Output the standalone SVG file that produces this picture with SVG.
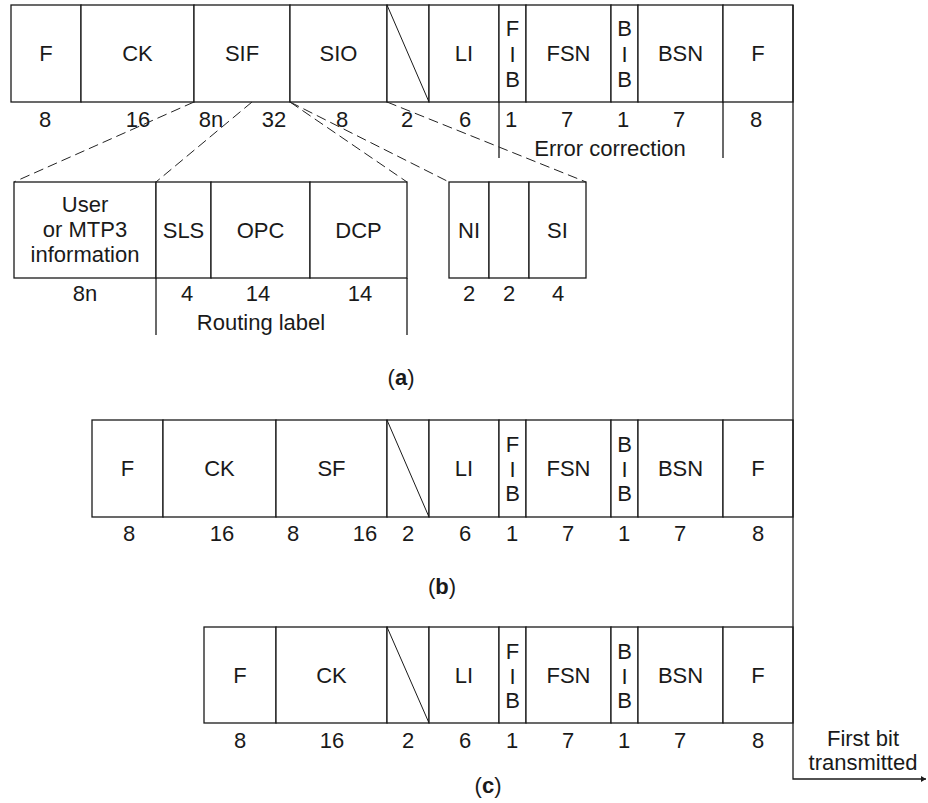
<svg xmlns="http://www.w3.org/2000/svg" width="928" height="803" viewBox="0 0 928 803">
  <style>
    .box { fill: #fff; stroke: #1a1a1a; stroke-width: 1.3; }
    .ln { fill: none; stroke: #1a1a1a; stroke-width: 1.3; }
    .diag { fill: none; stroke: #1a1a1a; stroke-width: 1; }
    .dash { fill: none; stroke: #222; stroke-width: 1; stroke-dasharray: 10 5; }
    text { font-family: "Liberation Sans", Arial, Helvetica, sans-serif; font-size: 22px; fill: #1a1a1a; text-anchor: middle; }
  </style>
  <defs>
    <marker id="arrow" markerWidth="6" markerHeight="8" refX="5" refY="4" orient="auto" markerUnits="userSpaceOnUse">
      <path d="M0,1 L5,4 L0,7 Z" fill="#1a1a1a"/>
    </marker>
  </defs>
  <rect width="928" height="803" fill="#fff"/>

  <!-- Signal unit with SIF/SIO (frame a) -->
  <g id="frame-a">
    <g id="a-F1"><rect class="box" x="11" y="5" width="70" height="97"/><text x="46" y="61">F</text></g>
    <g id="a-CK"><rect class="box" x="81" y="5" width="113" height="97"/><text x="137.5" y="61">CK</text></g>
    <g id="a-SIF"><rect class="box" x="194" y="5" width="96" height="97"/><text x="242" y="61">SIF</text></g>
    <g id="a-SIO"><rect class="box" x="290" y="5" width="97" height="97"/><text x="338.5" y="61">SIO</text></g>
    <g id="a-spare"><rect class="box" x="387" y="5" width="42" height="97"/><line class="diag" x1="387" y1="5" x2="429" y2="102"/></g>
    <g id="a-LI"><rect class="box" x="429" y="5" width="70" height="97"/><text x="464" y="61">LI</text></g>
    <g id="a-FIB"><rect class="box" x="499" y="5" width="27" height="97"/><text x="512.5" y="36">F</text><text x="512.5" y="62">I</text><text x="512.5" y="87">B</text></g>
    <g id="a-FSN"><rect class="box" x="526" y="5" width="85" height="97"/><text x="568.5" y="61">FSN</text></g>
    <g id="a-BIB"><rect class="box" x="611" y="5" width="27" height="97"/><text x="624.5" y="36">B</text><text x="624.5" y="62">I</text><text x="624.5" y="87">B</text></g>
    <g id="a-BSN"><rect class="box" x="638" y="5" width="85" height="97"/><text x="680.5" y="61">BSN</text></g>
    <g id="a-F2"><rect class="box" x="723" y="5" width="70" height="97"/><text x="758" y="61">F</text></g>
    <g id="a-bits">
      <text x="45" y="127">8</text>
      <text x="138" y="127">16</text>
      <text x="211" y="127">8n</text>
      <text x="274" y="127">32</text>
      <text x="342" y="127">8</text>
      <text x="407" y="127">2</text>
      <text x="465" y="127">6</text>
      <text x="511" y="127">1</text>
      <text x="567" y="127">7</text>
      <text x="623" y="127">1</text>
      <text x="679" y="127">7</text>
      <text x="756" y="127">8</text>
    </g>
    <g id="a-error-correction">
      <line class="ln" x1="499" y1="102" x2="499" y2="158"/>
      <line class="ln" x1="723" y1="102" x2="723" y2="158"/>
      <text x="610" y="156">Error correction</text>
    </g>
  </g>

  <!-- SIF breakdown -->
  <g id="sif-detail">
    <g id="s-user"><rect class="box" x="14" y="182" width="142" height="96"/>
      <text x="85" y="212">User</text><text x="85" y="237">or MTP3</text><text x="85" y="262">information</text></g>
    <g id="s-SLS"><rect class="box" x="156" y="182" width="55" height="96"/><text x="183.5" y="238">SLS</text></g>
    <g id="s-OPC"><rect class="box" x="211" y="182" width="99" height="96"/><text x="260.5" y="238">OPC</text></g>
    <g id="s-DCP"><rect class="box" x="310" y="182" width="97" height="96"/><text x="358.5" y="238">DCP</text></g>
    <g id="s-bits">
      <text x="85" y="301">8n</text>
      <text x="187" y="301">4</text>
      <text x="258" y="301">14</text>
      <text x="360" y="301">14</text>
    </g>
    <g id="routing-label">
      <line class="ln" x1="156" y1="278" x2="156" y2="335"/>
      <line class="ln" x1="407" y1="278" x2="407" y2="335"/>
      <text x="261" y="330">Routing label</text>
    </g>
  </g>

  <!-- SIO breakdown -->
  <g id="sio-detail">
    <g id="o-NI"><rect class="box" x="449" y="182" width="40" height="96"/><text x="469" y="238">NI</text></g>
    <g id="o-spare"><rect class="box" x="489" y="182" width="40" height="96"/></g>
    <g id="o-SI"><rect class="box" x="529" y="182" width="57" height="96"/><text x="557.5" y="238">SI</text></g>
    <g id="o-bits">
      <text x="469" y="301">2</text>
      <text x="509" y="301">2</text>
      <text x="558" y="301">4</text>
    </g>
  </g>

  <text id="caption-a" x="401" y="385">(<tspan font-weight="bold">a</tspan>)</text>

  <!-- Link status unit (frame b) -->
  <g id="frame-b">
    <g id="b-F1"><rect class="box" x="92" y="420" width="71" height="97"/><text x="127.5" y="476">F</text></g>
    <g id="b-CK"><rect class="box" x="163" y="420" width="113" height="97"/><text x="219.5" y="476">CK</text></g>
    <g id="b-SF"><rect class="box" x="276" y="420" width="111" height="97"/><text x="331.5" y="476">SF</text></g>
    <g id="b-spare"><rect class="box" x="387" y="420" width="42" height="97"/><line class="diag" x1="387" y1="420" x2="429" y2="517"/></g>
    <g id="b-LI"><rect class="box" x="429" y="420" width="70" height="97"/><text x="464" y="476">LI</text></g>
    <g id="b-FIB"><rect class="box" x="499" y="420" width="27" height="97"/><text x="512.5" y="452">F</text><text x="512.5" y="477">I</text><text x="512.5" y="501">B</text></g>
    <g id="b-FSN"><rect class="box" x="526" y="420" width="85" height="97"/><text x="568.5" y="476">FSN</text></g>
    <g id="b-BIB"><rect class="box" x="611" y="420" width="27" height="97"/><text x="624.5" y="452">B</text><text x="624.5" y="477">I</text><text x="624.5" y="501">B</text></g>
    <g id="b-BSN"><rect class="box" x="638" y="420" width="85" height="97"/><text x="680.5" y="476">BSN</text></g>
    <g id="b-F2"><rect class="box" x="723" y="420" width="70" height="97"/><text x="758" y="476">F</text></g>
    <g id="b-bits">
      <text x="129" y="541">8</text>
      <text x="222" y="541">16</text>
      <text x="293" y="541">8</text>
      <text x="365" y="541">16</text>
      <text x="408" y="541">2</text>
      <text x="465" y="541">6</text>
      <text x="512" y="541">1</text>
      <text x="568" y="541">7</text>
      <text x="624" y="541">1</text>
      <text x="680" y="541">7</text>
      <text x="758" y="541">8</text>
    </g>
  </g>

  <text id="caption-b" x="442" y="594">(<tspan font-weight="bold">b</tspan>)</text>

  <!-- Fill-in signal unit (frame c) -->
  <g id="frame-c">
    <g id="c-F1"><rect class="box" x="204" y="627" width="72" height="96"/><text x="240" y="683">F</text></g>
    <g id="c-CK"><rect class="box" x="276" y="627" width="111" height="96"/><text x="331.5" y="683">CK</text></g>
    <g id="c-spare"><rect class="box" x="387" y="627" width="42" height="96"/><line class="diag" x1="387" y1="627" x2="429" y2="723"/></g>
    <g id="c-LI"><rect class="box" x="429" y="627" width="70" height="96"/><text x="464" y="683">LI</text></g>
    <g id="c-FIB"><rect class="box" x="499" y="627" width="27" height="96"/><text x="512.5" y="659">F</text><text x="512.5" y="684">I</text><text x="512.5" y="708">B</text></g>
    <g id="c-FSN"><rect class="box" x="526" y="627" width="85" height="96"/><text x="568.5" y="683">FSN</text></g>
    <g id="c-BIB"><rect class="box" x="611" y="627" width="27" height="96"/><text x="624.5" y="659">B</text><text x="624.5" y="684">I</text><text x="624.5" y="708">B</text></g>
    <g id="c-BSN"><rect class="box" x="638" y="627" width="85" height="96"/><text x="680.5" y="683">BSN</text></g>
    <g id="c-F2"><rect class="box" x="723" y="627" width="70" height="96"/><text x="758" y="683">F</text></g>
    <g id="c-bits">
      <text x="240" y="748">8</text>
      <text x="332" y="748">16</text>
      <text x="408" y="748">2</text>
      <text x="465" y="748">6</text>
      <text x="512" y="748">1</text>
      <text x="568" y="748">7</text>
      <text x="624" y="748">1</text>
      <text x="680" y="748">7</text>
      <text x="758" y="748">8</text>
    </g>
  </g>

  <text id="caption-c" x="488" y="793">(<tspan font-weight="bold">c</tspan>)</text>

  <!-- Expansion guides and transmission-order line -->
  <g id="connectors">
    <line class="dash" x1="194" y1="102" x2="14" y2="182"/>
    <line class="dash" x1="252" y1="102" x2="156" y2="182"/>
    <line class="dash" x1="290" y1="102" x2="407" y2="182"/>
    <line class="dash" x1="290" y1="102" x2="449" y2="182"/>
    <line class="dash" x1="387" y1="102" x2="586" y2="182"/>
    <path class="ln" d="M793,5 V779 H926" marker-end="url(#arrow)"/>
  </g>

  <g id="first-bit-label">
    <text x="863" y="746">First bit</text>
    <text x="863" y="770">transmitted</text>
  </g>
</svg>
